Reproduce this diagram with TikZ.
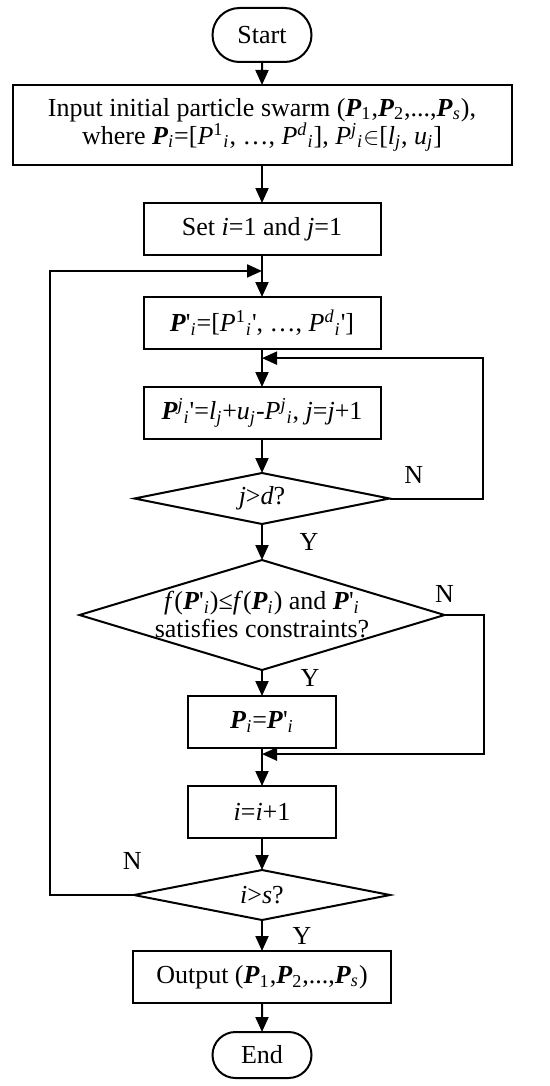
\documentclass[tikz,border=0pt]{standalone}
\usepackage{fontspec}
\setmainfont{Liberation Serif}
\usetikzlibrary{positioning, arrows.meta, shapes.geometric, shapes.misc, calc}
\newcommand{\bP}{\textbf{\textit{P}}}
\newcommand{\subx}[1]{\textsubscript{\textit{#1}}}
\newcommand{\supx}[1]{\textsuperscript{\textit{#1}}}
\newcommand{\prm}{\textquotesingle}

\begin{document}
\begin{tikzpicture}[font=\fontsize{13}{14}\selectfont, line width=1pt,
    term/.style={draw, rounded rectangle, minimum width=53.5pt, inner sep=2pt, outer sep=0pt},
    proc/.style={draw, rectangle, minimum width=118.5pt, minimum height=26pt, align=center, inner sep=2pt, outer sep=0pt},
    decide/.style={draw, diamond, inner sep=0pt, outer sep=0pt, minimum width=127.5pt, minimum height=25.5pt},
    arr/.style={-{Triangle[length=7.5pt, width=6.5pt]}}]
    \useasboundingbox (0,0) rectangle (275pt,-543pt);
    \node[term, minimum height=27pt] (start) at (131pt,-17.5pt) {Start};
    \node[proc, minimum width=249.5pt, minimum height=40pt, below=11.5pt of start] (input)
      {Input initial particle swarm (\bP\textsubscript{1},\bP\textsubscript{2},...,\bP\subx{s}),\\
       where \bP\subx{i}=[\textit{P}\textsuperscript{1}\subx{i}, …, \textit{P}\supx{d}\subx{i}], \textit{P}\supx{j}\subx{i}$\in$[\textit{l}\subx{j}, \textit{u}\subx{j}]};
    \node[proc, below=19pt of input] (set) {Set \textit{i}=1 and \textit{j}=1};
    \node[proc, below=21pt of set] (pp)
      {\bP\prm\subx{i}=[\textit{P}\textsuperscript{1}\subx{i}\prm, …, \textit{P}\supx{d}\subx{i}\prm]};
    \node[proc, below=19pt of pp] (upd)
      {\bP\supx{j}\subx{i}\prm=\textit{l}\subx{j}+\textit{u}\subx{j}-\textit{P}\supx{j}\subx{i}, \textit{j}=\textit{j}+1};
    \node[decide, below=17pt of upd, label=center:{\textit{j}>\textit{d}?}] (jd) {};
    \node[decide, minimum width=182.5pt, minimum height=55pt, below=18pt of jd,
      label={[align=center]center:{\textit{f}(\bP\prm\subx{i})≤\textit{f}(\bP\subx{i}) and \bP\prm\subx{i}\\satisfies constraints?}}] (fc) {};
    \node[proc, minimum width=74pt, below=13pt of fc] (swap) {\bP\subx{i}=\bP\prm\subx{i}};
    \node[proc, minimum width=74pt, below=19pt of swap] (inc) {\textit{i}=\textit{i}+1};
    \node[decide, minimum width=128pt, minimum height=25pt, below=16pt of inc, label=center:{\textit{i}>\textit{s}?}] (is) {};
    \node[proc, minimum width=129pt, below=15.5pt of is] (out)
      {Output (\bP\textsubscript{1},\bP\textsubscript{2},...,\bP\subx{s})};
    \node[term, minimum height=23pt, below=14.5pt of out] (end) {End};
    % junctions of the loops
    \coordinate (loopI) at ($(set.south)!0.38!(pp.north)$);
    \coordinate (loopJ) at ($(pp.south)!0.24!(upd.north)$);
    \coordinate (loopF) at ($(swap.south)!0.16!(inc.north)$);
    \draw[arr] (start) -- (input);
    \draw[arr] (input) -- (set);
    \draw[arr] (set) -- (pp);
    \draw[arr] (pp) -- (upd);
    \draw[arr] (upd) -- (jd);
    \draw[arr] (jd) -- node[xshift=23.5pt]{Y} (fc);
    \draw[arr] (fc) -- node[pos=0.3, xshift=24pt]{Y} (swap);
    \draw[arr] (swap) -- (inc);
    \draw[arr] (inc) -- (is);
    \draw[arr] (is) -- node[xshift=20pt]{Y} (out);
    \draw[arr] (out) -- (end);
    \draw[arr] (jd.east) -- node[pos=0.26, yshift=12pt]{N} ++(46.5pt,0) |- (loopJ);
    \draw[arr] (fc.east) -- node[pos=0, yshift=10.5pt]{N} ++(19.5pt,0) |- (loopF);
    \draw[arr] (is.west) -- node[pos=0.02, yshift=17pt]{N} ++(-42pt,0) |- (loopI);
  \end{tikzpicture}
\end{document}
